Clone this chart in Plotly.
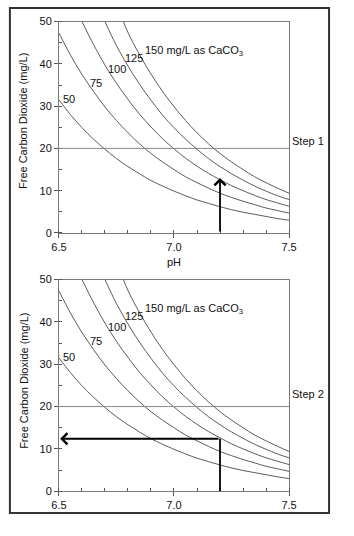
import plotly.graph_objects as go

# pH readings and Free CO2 readings (mg/L) for each alkalinity curve
ph_50 = [6.50, 6.55, 6.60, 6.65, 6.70, 6.75, 6.80, 6.85, 6.90, 6.95, 7.00, 7.05, 7.10, 7.15, 7.20, 7.25, 7.30, 7.35, 7.40, 7.45, 7.50]
co2_50 = [31.5, 28.0, 24.9, 22.2, 19.8, 17.6, 15.7, 14.0, 12.4, 11.1, 9.9, 8.8, 7.8, 7.0, 6.2, 5.5, 4.9, 4.4, 3.9, 3.4, 3.0]

ph_75 = [6.50, 6.55, 6.60, 6.65, 6.70, 6.75, 6.80, 6.85, 6.90, 6.95, 7.00, 7.05, 7.10, 7.15, 7.20, 7.25, 7.30, 7.35, 7.40, 7.45, 7.50]
co2_75 = [47.3, 42.1, 37.5, 33.5, 29.8, 26.6, 23.7, 21.1, 18.8, 16.8, 15.0, 13.3, 11.9, 10.6, 9.4, 8.4, 7.5, 6.7, 5.9, 5.3, 4.7]

ph_100 = [6.60, 6.65, 6.70, 6.75, 6.80, 6.85, 6.90, 6.95, 7.00, 7.05, 7.10, 7.15, 7.20, 7.25, 7.30, 7.35, 7.40, 7.45, 7.50]
co2_100 = [50.0, 44.6, 39.7, 35.4, 31.6, 28.1, 25.1, 22.3, 19.9, 17.7, 15.8, 14.1, 12.6, 11.2, 10.0, 8.9, 7.9, 7.1, 6.3]

ph_125 = [6.70, 6.75, 6.80, 6.85, 6.90, 6.95, 7.00, 7.05, 7.10, 7.15, 7.20, 7.25, 7.30, 7.35, 7.40, 7.45, 7.50]
co2_125 = [50.0, 44.3, 39.5, 35.2, 31.4, 27.9, 24.9, 22.2, 19.8, 17.6, 15.7, 14.0, 12.5, 11.1, 9.9, 8.8, 7.9]

ph_150 = [6.78, 6.80, 6.85, 6.90, 6.95, 7.00, 7.05, 7.10, 7.15, 7.20, 7.25, 7.30, 7.35, 7.40, 7.45, 7.50]
co2_150 = [50.0, 47.4, 42.2, 37.6, 33.5, 29.9, 26.6, 23.7, 21.1, 18.8, 16.8, 15.0, 13.3, 11.9, 10.6, 9.4]

curve_ph = [ph_50, ph_75, ph_100, ph_125, ph_150]
curve_co2 = [co2_50, co2_75, co2_100, co2_125, co2_150]

label_text = ["50", "75", "100", "125", "150 mg/L as CaCO<sub>3</sub>"]
label_ph = [6.545, 6.66, 6.753, 6.827, 6.864]
label_co2 = [31.8, 35.4, 38.9, 41.5, 43.0]

x_ticks = [6.5, 7.0, 7.5]
x_tick_text = ["6.5", "7.0", "7.5"]
y_ticks = [0, 10, 20, 30, 40, 50]

reference_co2 = 20
target_ph = 7.2
result_co2 = 12.6
step_labels = ["Step 1", "Step 2"]

FONT = "Liberation Sans, Arial, sans-serif"

# largest figure size that the page shows unscaled at the top-left corner
W, H = 338, 520
DY2 = 6  # lower panel nudged up so its tick labels stay inside the figure


def px(xp):
    return xp / W


def py(yp):
    return 1 - yp / H


fig = go.Figure()

for xa, ya in [("x", "y"), ("x2", "y2")]:
    for cx, cy in zip(curve_ph, curve_co2):
        fig.add_trace(go.Scatter(x=cx, y=cy, mode="lines", xaxis=xa, yaxis=ya,
                                 line=dict(color="#4a4a4a", width=0.9, shape="spline"),
                                 showlegend=False, hoverinfo="skip"))
    for t, lx, ly in zip(label_text, label_ph, label_co2):
        fig.add_annotation(x=lx, y=ly, xref=xa, yref=ya, text=t, showarrow=False,
                           xanchor="left" if "mg" in t else "center", yanchor="middle",
                           font=dict(family=FONT, size=11, color="#111"))
    fig.add_shape(type="line", x0=6.5, x1=7.5, y0=reference_co2, y1=reference_co2,
                  xref=xa, yref=ya, line=dict(color="#8a8a8a", width=1))

# Step 1 arrow
fig.add_annotation(x=target_ph, y=result_co2 + 0.4, ax=target_ph, ay=0, xref="x", yref="y",
                   axref="x", ayref="y", showarrow=True, arrowhead=4, arrowsize=1.2,
                   arrowwidth=1.8, arrowcolor="#000", text="")
# Step 2 arrow
fig.add_shape(type="line", x0=target_ph, x1=target_ph, y0=0, y1=result_co2 - 0.2,
              xref="x2", yref="y2", line=dict(color="#000", width=1.8))
fig.add_annotation(x=6.505, y=result_co2 - 0.2, ax=target_ph, ay=result_co2 - 0.2, xref="x2", yref="y2",
                   axref="x2", ayref="y2", showarrow=True, arrowhead=4, arrowsize=1.2,
                   arrowwidth=1.8, arrowcolor="#000", text="")

axis_common = dict(showgrid=False, zeroline=False, showline=True, mirror=True,
                   linecolor="#7a7a7a", linewidth=1, ticks="outside", ticklen=4,
                   tickcolor="#555", tickfont=dict(family=FONT, size=11, color="#111"))

xd = [px(53.5), px(295)]
fig.update_layout(
    width=W, height=H, margin=dict(l=0, r=0, t=0, b=0),
    paper_bgcolor="white", plot_bgcolor="white",
    xaxis=dict(domain=xd, range=[6.5, 7.5], tickvals=x_ticks, ticktext=x_tick_text, anchor="y",
               minor=dict(dtick=0.1, tick0=6.5, ticks="inside", ticklen=3, tickcolor="#555"), **axis_common),
    yaxis=dict(domain=[py(232.3), py(16)], range=[0, 50], tickvals=y_ticks, anchor="x",
               minor=dict(dtick=5, tick0=0, ticks="inside", ticklen=3, tickcolor="#555"), **axis_common),
    xaxis2=dict(domain=xd, range=[6.5, 7.5], tickvals=x_ticks, ticktext=x_tick_text, anchor="y2",
                minor=dict(dtick=0.1, tick0=6.5, ticks="inside", ticklen=3, tickcolor="#555"), **axis_common),
    yaxis2=dict(domain=[py(502.7 - DY2), py(286 - DY2)], range=[0, 50], tickvals=y_ticks, anchor="x2",
                minor=dict(dtick=5, tick0=0, ticks="inside", ticklen=3, tickcolor="#555"), **axis_common),
)

for yc in [118, 390 - DY2]:
    fig.add_annotation(x=px(16.5), y=py(yc), xref="paper", yref="paper",
                       xanchor="center", yanchor="middle",
                       text="Free Carbon Dioxide (mg/L)", textangle=-90, showarrow=False,
                       font=dict(family=FONT, size=11, color="#111"))
fig.add_annotation(x=px(174), y=py(262), xref="paper", yref="paper", text="pH",
                   xanchor="center", yanchor="middle",
                   showarrow=False, font=dict(family=FONT, size=11, color="#111"))
for s, yc in zip(step_labels, [138, 403 - DY2]):
    fig.add_annotation(x=px(334), y=py(yc), xref="paper", yref="paper", text=s,
                       xanchor="right", yanchor="middle",
                       showarrow=False, font=dict(family=FONT, size=11, color="#111"))

# outer frame
fig.add_shape(type="rect", xref="paper", yref="paper", x0=px(2), x1=px(W - 1),
              y0=py(H - 1), y1=py(2), line=dict(color="#333", width=2))

fig.write_html("out.html")
